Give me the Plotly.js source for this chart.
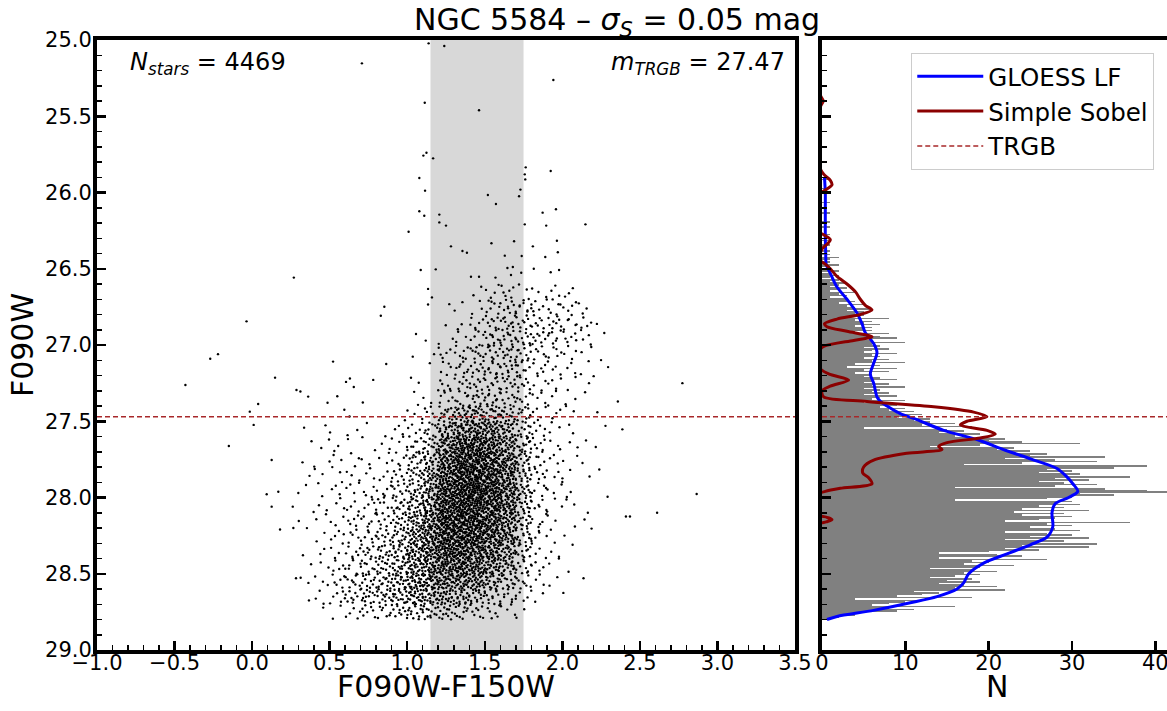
<!DOCTYPE html>
<html>
<head>
<meta charset="utf-8">
<script src="https://cdn.plot.ly/plotly-3.0.1.min.js"></script>
<style>
html,body{margin:0;padding:0;background:#fff;overflow:hidden;}
#chart{width:1185px;height:711px;}
</style>
</head>
<body>
<div id="chart"></div>
<script>
// ---------------- DATA ----------------
const mTRGB = 27.47;
const nStars = 4469;
const bandColor = [1.15, 1.75];

// Individually read sparse stars: colour (F090W-F150W) and magnitude (F090W)
const sparseColor = [0.708,1.138,1.239,1.942,1.113,1.463,1.104,1.124,1.167,1.764,1.925,1.758,1.761,1.078,1.115,1.730,1.721,1.520,1.572,1.078,1.110,1.207,1.207,1.250,1.873,1.959,1.758,1.896,2.149,1.009,1.282,1.356,1.385,1.543,1.689,1.810,1.965,1.971,1.890,1.629,1.738,1.087,1.184,1.646,1.681,1.816,1.979,1.925,1.735,1.411,1.463,1.569,1.669,0.269,
 -0.036,-0.430,-0.270,-0.220,0.148,0.286,0.039,-0.015,0.010,-0.150,0.126,0.094,0.169,0.126,0.180,0.266,0.262,0.298,0.283,
 2.774,2.358,2.387,2.410,2.436,2.611,2.866];
const sparseMag = [25.153,25.022,25.039,25.262,25.411,25.461,25.758,25.739,25.776,25.835,25.859,25.881,25.914,25.905,25.988,25.981,26.025,26.016,26.075,26.123,26.152,26.145,26.196,26.217,26.132,26.110,26.209,26.217,26.209,26.257,26.353,26.384,26.395,26.333,26.320,26.353,26.316,26.392,26.423,26.414,26.416,26.508,26.504,26.495,26.489,26.500,26.508,26.523,26.526,26.552,26.552,26.558,26.541,26.558,
 26.845,27.262,27.090,27.060,27.214,27.295,27.387,27.437,27.524,27.662,27.754,27.979,27.962,28.060,28.210,28.200,28.060,27.970,28.530,
 27.250,27.370,27.553,28.125,28.125,28.100,27.977];

// Star counts read per 0.1 mag x 0.1 colour cell of the dense CMD region
const cellRowMag = [26.6,26.7,26.8,26.9,27.0,27.1,27.2,27.3,27.4,27.5,27.6,27.7,27.8,27.9,28.0,28.1,28.2,28.3,28.4,28.5,28.6,28.7];
const cellColColor = [0.3,0.4,0.5,0.6,0.7,0.8,0.9,1.0,1.1,1.2,1.3,1.4,1.5,1.6,1.7,1.8,1.9,2.0,2.1,2.2];
const cellCounts = [
 [0,0,0,0,0,0,0,0,2,0,0,2,4,6,3,3,3,3,0,0],
 [0,0,0,0,0,1,0,0,1,1,2,3,7,9,8,6,6,4,3,0],
 [0,0,0,0,0,1,0,0,0,1,2,5,8,10,9,7,8,6,4,1],
 [0,0,0,0,0,0,0,1,1,2,3,6,10,11,10,8,7,6,4,1],
 [0,0,0,0,0,0,0,1,1,5,7,9,10,11,10,6,5,4,2,1],
 [0,0,1,0,0,1,0,0,1,5,8,9,10,10,9,5,4,3,2,1],
 [0,0,0,3,1,0,0,2,1,5,7,9,9,10,8,4,4,2,1,1],
 [2,1,1,0,1,0,0,2,2,6,8,10,10,9,7,4,3,2,1,0],
 [0,0,1,1,0,0,1,3,5,13,18,20,17,14,10,5,3,2,0,1],
 [1,1,1,2,1,1,3,5,9,20,28,32,28,20,12,6,3,2,0,1],
 [1,2,2,1,2,2,4,8,14,30,40,42,36,26,15,6,3,2,1,1],
 [1,2,2,3,2,3,6,11,18,36,48,50,42,32,16,6,3,2,1,0],
 [1,2,3,3,3,4,8,14,22,40,52,54,46,34,17,6,3,2,1,1],
 [1,2,3,4,4,5,9,16,26,44,54,55,48,36,17,6,3,2,0,1],
 [1,2,3,4,5,7,11,18,30,46,52,52,45,34,16,6,3,2,1,0],
 [1,2,3,5,6,8,13,22,34,48,52,50,42,32,15,5,2,1,1,0],
 [1,2,4,5,7,10,15,26,36,48,50,46,40,30,14,5,2,1,1,0],
 [1,2,4,6,9,12,17,28,36,44,44,40,34,24,12,4,2,1,0,0],
 [1,2,4,7,10,13,18,28,32,38,38,34,28,20,10,4,2,1,0,0],
 [2,3,6,9,12,14,20,28,30,32,30,26,20,14,8,3,2,0,1,0],
 [1,3,6,9,12,14,18,24,24,24,20,16,12,8,5,2,0,1,0,0],
 [0,1,2,5,7,8,10,14,14,13,10,8,6,4,2,0,0,0,0,0]
];

// Luminosity function histogram (0.01 mag bins starting at 25.90)
const histStart = 25.90;
const histBin = 0.01;
const histCounts = [
 0,1,0,0,0,0,0,1,0,0,
 1,0,0,0,0,0,1,0,0,0,
 0,0,0,1,0,0,0,0,0,1,
 0,0,1,0,0,0,0,1,0,0,
 0,1,0,0,1,0,0,0,1,0,
 1,0,2,1,0,1,0,2,1,0,
 1,2,0,1,2,1,0,2,1,3,
 2,1,3,2,1,4,2,3,1,3,
 3,4,2,5,3,4,6,3,5,4,
 5,3,8,4,6,5,7,4,6,5,
 6,4,8,5,7,9,5,6,10,6,
 7,5,8,6,5,9,6,7,5,8,
 6,10,4,7,3,9,5,8,4,6,
 5,7,9,6,5,8,6,10,5,7,
 6,8,5,9,7,6,10,5,8,9,
 7,10,8,11,9,12,10,9,13,11,
 13,16,12,18,5,15,17,14,19,16,
 18,22,20,24,31,19,13,23,21,25,
 23,27,25,34,22,28,33,24,17,39,
 35,27,30,26,31,29,37,28,32,26,
 29,33,28,16,34,39,42,31,35,30,
 27,16,30,28,31,26,29,24,32,23,
 29,24,30,28,26,22,37,27,30,25,
 28,31,22,27,30,25,32,22,29,26,
 33,24,32,22,26,20,14,21,24,14,
 27,18,20,17,23,19,13,18,21,17,
 19,16,13,18,15,19,14,17,21,16,
 22,11,14,12,9,18,4,12,10,8,
 6,16,8,11,9,5,3,4,2,1
];

// GLOESS smoothed LF
const gloessMag = [25.90,26.00,26.10,26.20,26.30,26.40,26.47,26.53,26.62,26.70,26.79,26.86,26.92,26.99,27.05,27.12,27.19,27.25,27.34,27.37,27.40,27.45,27.49,27.56,27.62,27.69,27.75,27.81,27.86,27.91,27.96,28.00,28.04,28.10,28.19,28.26,28.31,28.37,28.43,28.50,28.56,28.60,28.65,28.69,28.74,28.78,28.80];
const gloessN   = [0.3,0.4,0.4,0.4,0.4,0.45,0.5,1.0,1.8,3.0,4.2,4.8,5.2,6.2,6.6,6.2,5.8,6.2,6.6,7.0,7.8,9.4,11.4,14.6,18.6,22.0,25.2,28.2,29.3,30.1,30.7,29.6,28.0,27.6,27.7,27.0,25.0,22.2,19.4,17.6,17.0,16.2,13.8,10.6,6.2,1.8,0.6];

// Simple Sobel edge response
const sobelMag = [25.00,25.36,25.40,25.44,25.80,25.88,25.92,25.95,25.98,26.02,26.25,26.28,26.31,26.34,26.37,26.44,26.47,26.50,26.55,26.60,26.65,26.70,26.74,26.77,26.80,26.83,26.86,26.88,26.91,26.946,26.97,27.01,27.05,27.15,27.19,27.23,27.27,27.30,27.34,27.37,27.405,27.44,27.47,27.50,27.525,27.56,27.585,27.61,27.64,27.665,27.685,27.71,27.755,27.80,27.84,27.87,27.91,27.94,27.96,27.98,28.11,28.13,28.145,28.16,28.18,29.00];
const sobelN   = [-0.5,-0.2,0.15,-0.2,-0.5,0.2,1.0,1.2,0.5,-0.5,-0.5,0.3,1.0,0.6,0.0,-0.3,0.4,1.0,1.8,3.0,4.0,4.6,5.2,6.0,4.6,1.8,0.3,0.6,3.0,6.0,3.8,0.2,-0.5,-0.3,0.8,3.2,1.0,0.0,0.2,5.4,13.4,18.2,19.8,17.4,16.6,19.8,20.8,19.0,15.0,14.0,14.4,10.2,6.2,5.0,4.9,5.6,6.0,2.2,0.4,-0.5,-0.5,0.6,1.2,0.5,-0.5,-0.5];

// Axis titles
const xTitleCMD = 'F090W-F150W';
const yTitleCMD = 'F090W';
const xTitleLF = 'N';

// ---------------- BUILD ----------------
function halton(i, b){ let f = 1, r = 0; while (i > 0){ f /= b; r += f * (i % b); i = Math.floor(i / b); } return r; }

const starX = sparseColor.slice();
const starY = sparseMag.slice();
cellCounts.forEach((row, r) => {
  row.forEach((n, k) => {
    const base = 1 + r * 977 + k * 131;
    for (let j = 0; j < n; j++){
      // deterministic even placement inside the read 0.1 x 0.1 cell
      starX.push(cellColColor[k] + 0.1 * halton(base + j, 2));
      starY.push(cellRowMag[r] + 0.1 * halton(base + j, 3));
    }
  });
});

const histY = histCounts.map((_, i) => histStart + histBin * (i + 0.5));

const FONT = 'DejaVu Sans';
const traces = [
  {type:'scatter', mode:'markers', x:starX, y:starY, xaxis:'x', yaxis:'y',
   marker:{size:2.4, color:'black', line:{width:0}}, showlegend:false, hoverinfo:'skip'},
  {type:'scatter', mode:'lines', x:[-1, 3.5], y:[mTRGB, mTRGB], xaxis:'x', yaxis:'y',
   line:{color:'#a8282a', width:1.6, dash:'5px,3px'}, showlegend:false, hoverinfo:'skip'},
  {type:'bar', orientation:'h', x:histCounts, y:histY, width:histBin, xaxis:'x2', yaxis:'y2',
   marker:{color:'#808080', line:{width:0}}, showlegend:false, hoverinfo:'skip'},
  {type:'scatter', mode:'lines', x:gloessN, y:gloessMag, xaxis:'x2', yaxis:'y2', name:'GLOESS LF',
   line:{color:'#0000ff', width:3, shape:'spline', smoothing:0.8}},
  {type:'scatter', mode:'lines', x:sobelN, y:sobelMag, xaxis:'x2', yaxis:'y2', name:'Simple Sobel',
   line:{color:'#8b0000', width:3, shape:'spline', smoothing:0.8}},
  {type:'scatter', mode:'lines', x:[0, 42], y:[mTRGB, mTRGB], xaxis:'x2', yaxis:'y2', name:'TRGB',
   line:{color:'#a8282a', width:1.6, dash:'5px,3px'}}
];

const frame = {showline:true, linewidth:4, linecolor:'black', mirror:true, showgrid:false, zeroline:false,
  ticks:'inside', ticklen:9, tickwidth:2.5, tickcolor:'black'};
const minorY = {dtick:0.1, ticks:'inside', ticklen:5, tickwidth:1.5, tickcolor:'black', showgrid:false};

const layout = {
  width:1185, height:711,
  margin:{l:97, r:13, t:40, b:61, pad:0},
  paper_bgcolor:'white', plot_bgcolor:'white',
  font:{family:FONT, color:'black', size:21},
  bargap:0,
  title:{text:'NGC 5584 – <i>σ</i><sub><i>S</i></sub> = 0.05 mag', font:{family:FONT, size:30, color:'black'},
         xref:'container', x:0.5207, xanchor:'center', yref:'container', y:0.972, yanchor:'middle'},
  xaxis:Object.assign({}, frame, {domain:[0, 0.6493], range:[-1, 3.5], tick0:-1, dtick:0.5, tickformat:'.1f',
         ticklabelstandoff:-9,
         minor:{dtick:0.1, ticks:'inside', ticklen:5, tickwidth:1.5, tickcolor:'black', showgrid:false},
         anchor:'y'}),
  yaxis:Object.assign({}, frame, {domain:[0, 1], range:[29, 25], tick0:25, dtick:0.5, tickformat:'.1f',
         ticklabelstandoff:-3,
         minor:minorY, title:{text:yTitleCMD, font:{size:30}, standoff:4}, anchor:'x'}),
  xaxis2:Object.assign({}, frame, {domain:[0.6744, 1], range:[0, 42], tickvals:[0,10,20,30,40], ticktext:['0','10','20','30','40'],
         ticklabelstandoff:-9, anchor:'y2'}),
  yaxis2:Object.assign({}, frame, {domain:[0, 1], range:[29, 25], tick0:25, dtick:0.5, showticklabels:false,
         minor:minorY, anchor:'x2'}),
  shapes:[{type:'rect', xref:'x', yref:'y domain', x0:bandColor[0], x1:bandColor[1], y0:0, y1:1,
           fillcolor:'#d8d8d8', line:{width:0}, layer:'below'}],
  showlegend:true,
  legend:{x:0.9835, xanchor:'right', y:0.979, yanchor:'top', bgcolor:'white', bordercolor:'#cccccc', borderwidth:1,
          font:{family:FONT, size:24.5, color:'black'}, itemwidth:66, tracegroupgap:0},
  annotations:[
    {xref:'paper', yref:'paper', x:0.0288, y:0.962, xanchor:'left', yanchor:'middle', showarrow:false,
     text:'<i>N</i><sub><i>stars</i></sub> = ' + nStars, font:{family:FONT, size:24, color:'black'}},
    {xref:'paper', yref:'paper', x:0.6419, y:0.962, xanchor:'right', yanchor:'middle', showarrow:false,
     text:'<i>m</i><sub><i>TRGB</i></sub> = ' + mTRGB.toFixed(2), font:{family:FONT, size:24, color:'black'}},
    // x-axis titles, placed just below the tick labels as in the reference
    {xref:'x domain', yref:'paper', x:0.5, y:-0.0595, xanchor:'center', yanchor:'middle', showarrow:false,
     text:xTitleCMD, font:{family:FONT, size:30, color:'black'}},
    {xref:'x2 domain', yref:'paper', x:0.5, y:-0.0595, xanchor:'center', yanchor:'middle', showarrow:false,
     text:xTitleLF, font:{family:FONT, size:30, color:'black'}}
  ]
};

Plotly.newPlot('chart', traces, layout, {staticPlot:true, displayModeBar:false});
</script>
</body>
</html>
